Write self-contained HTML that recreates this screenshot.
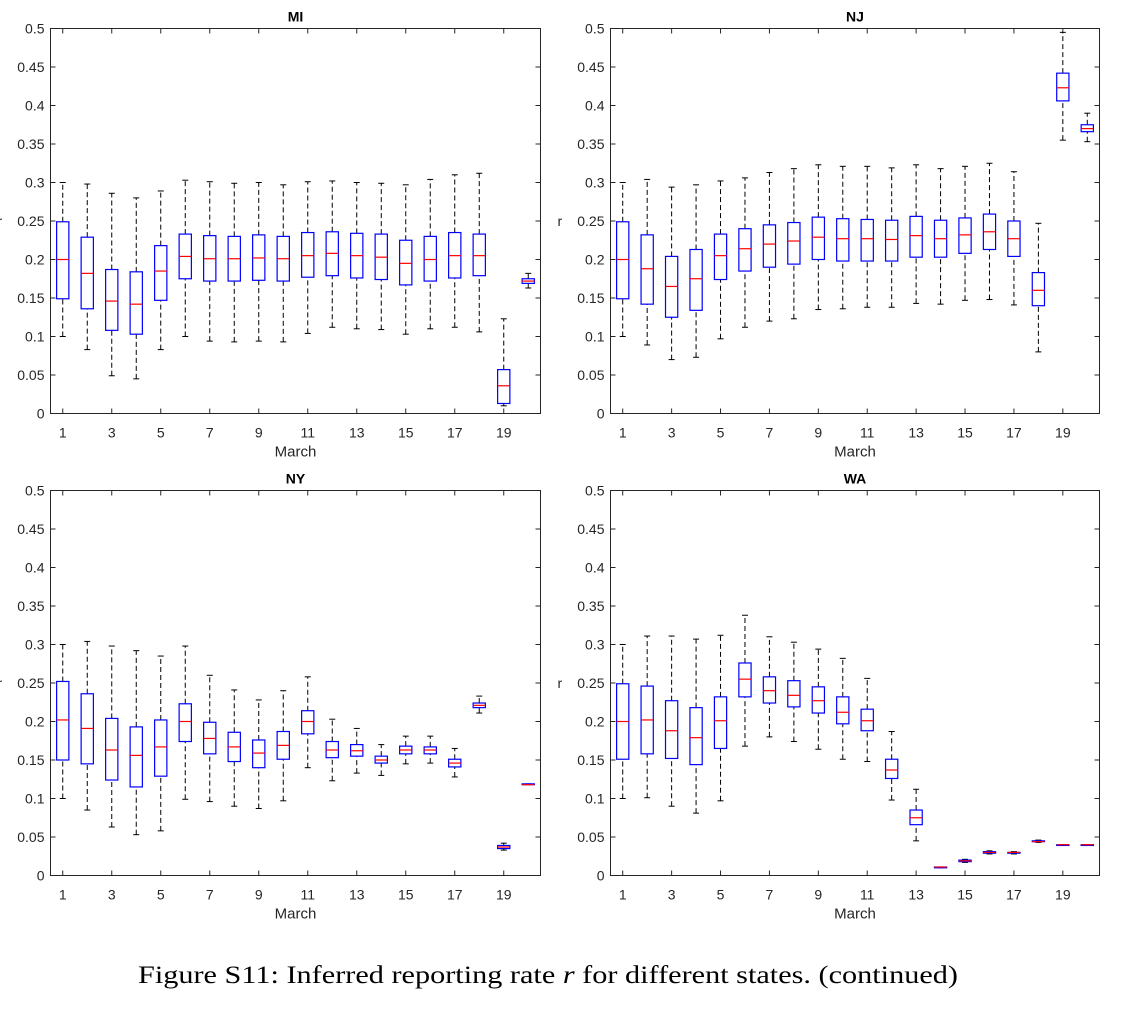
<!DOCTYPE html>
<html><head><meta charset="utf-8"><style>
body{margin:0;background:#fff;width:1122px;height:1012px;overflow:hidden}
svg text{font-family:"Liberation Sans",sans-serif}
</style></head><body>
<svg id="fig" width="1122" height="1012" xmlns="http://www.w3.org/2000/svg"></svg>
<script>
// [lower whisker, q1, median, q3, upper whisker] per March day 1..20
const miData=[[0.10,0.149,0.20,0.249,0.30],[0.083,0.136,0.182,0.229,0.298],[0.049,0.108,0.146,0.187,0.286],[0.045,0.103,0.142,0.184,0.280],[0.083,0.147,0.185,0.218,0.289],[0.10,0.175,0.204,0.233,0.303],[0.094,0.172,0.201,0.231,0.301],[0.093,0.172,0.201,0.230,0.299],[0.094,0.173,0.202,0.232,0.300],[0.093,0.172,0.201,0.230,0.297],[0.104,0.177,0.205,0.235,0.301],[0.112,0.179,0.208,0.236,0.302],[0.110,0.176,0.205,0.234,0.300],[0.109,0.174,0.203,0.233,0.299],[0.103,0.167,0.195,0.225,0.297],[0.110,0.172,0.200,0.230,0.304],[0.112,0.176,0.205,0.235,0.310],[0.106,0.179,0.205,0.233,0.312],[0.010,0.013,0.036,0.057,0.123],[0.163,0.169,0.172,0.175,0.182]];
const njData=[[0.10,0.149,0.20,0.249,0.30],[0.089,0.142,0.188,0.232,0.304],[0.07,0.125,0.165,0.204,0.294],[0.073,0.134,0.175,0.213,0.297],[0.097,0.174,0.205,0.233,0.302],[0.112,0.185,0.214,0.240,0.306],[0.12,0.19,0.22,0.245,0.313],[0.123,0.194,0.224,0.248,0.318],[0.135,0.2,0.229,0.255,0.323],[0.136,0.198,0.227,0.253,0.321],[0.138,0.198,0.227,0.252,0.321],[0.138,0.198,0.226,0.251,0.319],[0.143,0.203,0.231,0.256,0.323],[0.142,0.203,0.227,0.251,0.318],[0.147,0.208,0.232,0.254,0.321],[0.148,0.213,0.236,0.259,0.325],[0.141,0.204,0.227,0.25,0.314],[0.08,0.14,0.16,0.183,0.247],[0.355,0.406,0.423,0.442,0.495],[0.353,0.366,0.370,0.375,0.390]];
const nyData=[[0.10,0.15,0.202,0.252,0.30],[0.085,0.145,0.191,0.236,0.304],[0.063,0.124,0.163,0.204,0.298],[0.053,0.115,0.156,0.193,0.292],[0.058,0.129,0.167,0.202,0.285],[0.099,0.174,0.200,0.223,0.298],[0.096,0.158,0.178,0.199,0.26],[0.09,0.148,0.167,0.186,0.241],[0.087,0.14,0.159,0.176,0.228],[0.097,0.151,0.169,0.187,0.24],[0.14,0.184,0.200,0.214,0.258],[0.123,0.153,0.163,0.174,0.203],[0.133,0.155,0.162,0.17,0.191],[0.13,0.146,0.15,0.155,0.17],[0.145,0.158,0.163,0.168,0.181],[0.146,0.158,0.163,0.167,0.181],[0.128,0.141,0.146,0.151,0.165],[0.211,0.218,0.221,0.224,0.233],[0.033,0.035,0.037,0.039,0.042],[0.118,0.118,0.118,0.119,0.119]];
const waData=[[0.10,0.151,0.20,0.249,0.30],[0.101,0.158,0.202,0.246,0.311],[0.090,0.152,0.188,0.227,0.311],[0.081,0.144,0.179,0.218,0.307],[0.097,0.165,0.201,0.232,0.312],[0.168,0.232,0.255,0.276,0.338],[0.180,0.224,0.240,0.258,0.310],[0.174,0.219,0.234,0.253,0.303],[0.164,0.211,0.227,0.245,0.294],[0.151,0.197,0.212,0.232,0.282],[0.148,0.188,0.201,0.216,0.256],[0.098,0.126,0.137,0.151,0.187],[0.045,0.066,0.075,0.085,0.112],[0.010,0.010,0.011,0.011,0.011],[0.017,0.018,0.019,0.020,0.021],[0.028,0.029,0.030,0.031,0.032],[0.028,0.029,0.030,0.030,0.031],[0.043,0.044,0.044,0.045,0.046],[0.039,0.039,0.040,0.040,0.040],[0.039,0.039,0.040,0.040,0.040]];
const yTicks=[0,0.05,0.1,0.15,0.2,0.25,0.3,0.35,0.4,0.45,0.5];
const yTickLabels=["0","0.05","0.1","0.15","0.2","0.25","0.3","0.35","0.4","0.45","0.5"];
const xTicks=[1,3,5,7,9,11,13,15,17,19];
const panels=[{t:"MI",d:miData,l:50.5,r:540.5,top:28.5,b:413.5},{t:"NJ",d:njData,l:610.5,r:1099.5,top:28.5,b:413.5},{t:"NY",d:nyData,l:50.5,r:540.5,top:490.5,b:875.5},{t:"WA",d:waData,l:610.5,r:1099.5,top:490.5,b:875.5}];
const svg=document.getElementById('fig');const NS="http://www.w3.org/2000/svg";
function mk(tag,attrs,parent,text){const e=document.createElementNS(NS,tag);for(const k in attrs)e.setAttribute(k,attrs[k]);if(text!==undefined)e.textContent=text;parent.appendChild(e);return e;}
panels.forEach(p=>{
 const g=mk('g',{},svg);
 
 
 const xs=v=>p.l+(v-0.5)/20*(p.r-p.l);
 const ys=v=>p.b-v/0.5*(p.b-p.top);
 const bw=(p.r-p.l)/20*0.5;
 const t=mk('text',{x:(p.l+p.r)/2,y:p.top-7,'text-anchor':'middle','font-size':14,'font-weight':'bold',fill:'#000'},g,p.t);
 
 
 const yl=mk('text',{x:p.l-53,y:(p.top+p.b)/2+5,'font-size':14,fill:'#262626'},g,'r');
 
 
 yTicks.forEach((v,i)=>{const y=ys(v);
  mk('line',{x1:p.l,x2:p.l+5,y1:y,y2:y,stroke:'#262626'},g);
  mk('line',{x1:p.r,x2:p.r-5,y1:y,y2:y,stroke:'#262626'},g);
  const tl=mk('text',{x:p.l-6,y:y+5,'text-anchor':'end','font-size':14,fill:'#262626'},g,yTickLabels[i]);
  
  });
 xTicks.forEach(v=>{const x=xs(v);
  mk('line',{x1:x,x2:x,y1:p.b,y2:p.b-5,stroke:'#262626'},g);
  mk('line',{x1:x,x2:x,y1:p.top,y2:p.top+5,stroke:'#262626'},g);
  const tl=mk('text',{x:x,y:p.b+24,'text-anchor':'middle','font-size':14,fill:'#262626'},g,String(v));
  
  });
 const xl=mk('text',{x:(p.l+p.r)/2,y:p.b+43,'text-anchor':'middle','font-size':15,fill:'#262626'},g,'March');
 
 
 p.d.forEach((b,i)=>{const x=xs(i+1);
  const bg=mk('g',{},g);
  
  
  mk('line',{x1:x,x2:x,y1:ys(b[0]),y2:ys(b[1]),stroke:'#000','stroke-dasharray':'5,3'},bg);
  mk('line',{x1:x,x2:x,y1:ys(b[3]),y2:ys(b[4]),stroke:'#000','stroke-dasharray':'5,3'},bg);
  mk('line',{x1:x-3,x2:x+3,y1:ys(b[0]),y2:ys(b[0]),stroke:'#000'},bg);
  mk('line',{x1:x-3,x2:x+3,y1:ys(b[4]),y2:ys(b[4]),stroke:'#000'},bg);
  mk('rect',{x:x-bw/2,y:ys(b[3]),width:bw,height:Math.max(0.5,ys(b[1])-ys(b[3])),fill:'#fff',stroke:'#0000ff','stroke-width':1.2},bg);
  mk('line',{x1:x-bw/2,x2:x+bw/2,y1:ys(b[2]),y2:ys(b[2]),stroke:'#ff0000','stroke-width':1.2},bg);
 });
 const fr=mk('rect',{x:p.l,y:p.top,width:p.r-p.l,height:p.b-p.top,fill:'none',stroke:'#262626'},g);
 
 
});
const cap=mk('text',{x:138,y:983,'font-size':25,fill:'#000',textLength:820,lengthAdjust:'spacingAndGlyphs'},svg);


cap.style.fontFamily='"Liberation Serif",serif';
cap.innerHTML='Figure S11: Inferred reporting rate <tspan font-style="italic">r</tspan> for different states. (continued)';
</script>
</body></html>
